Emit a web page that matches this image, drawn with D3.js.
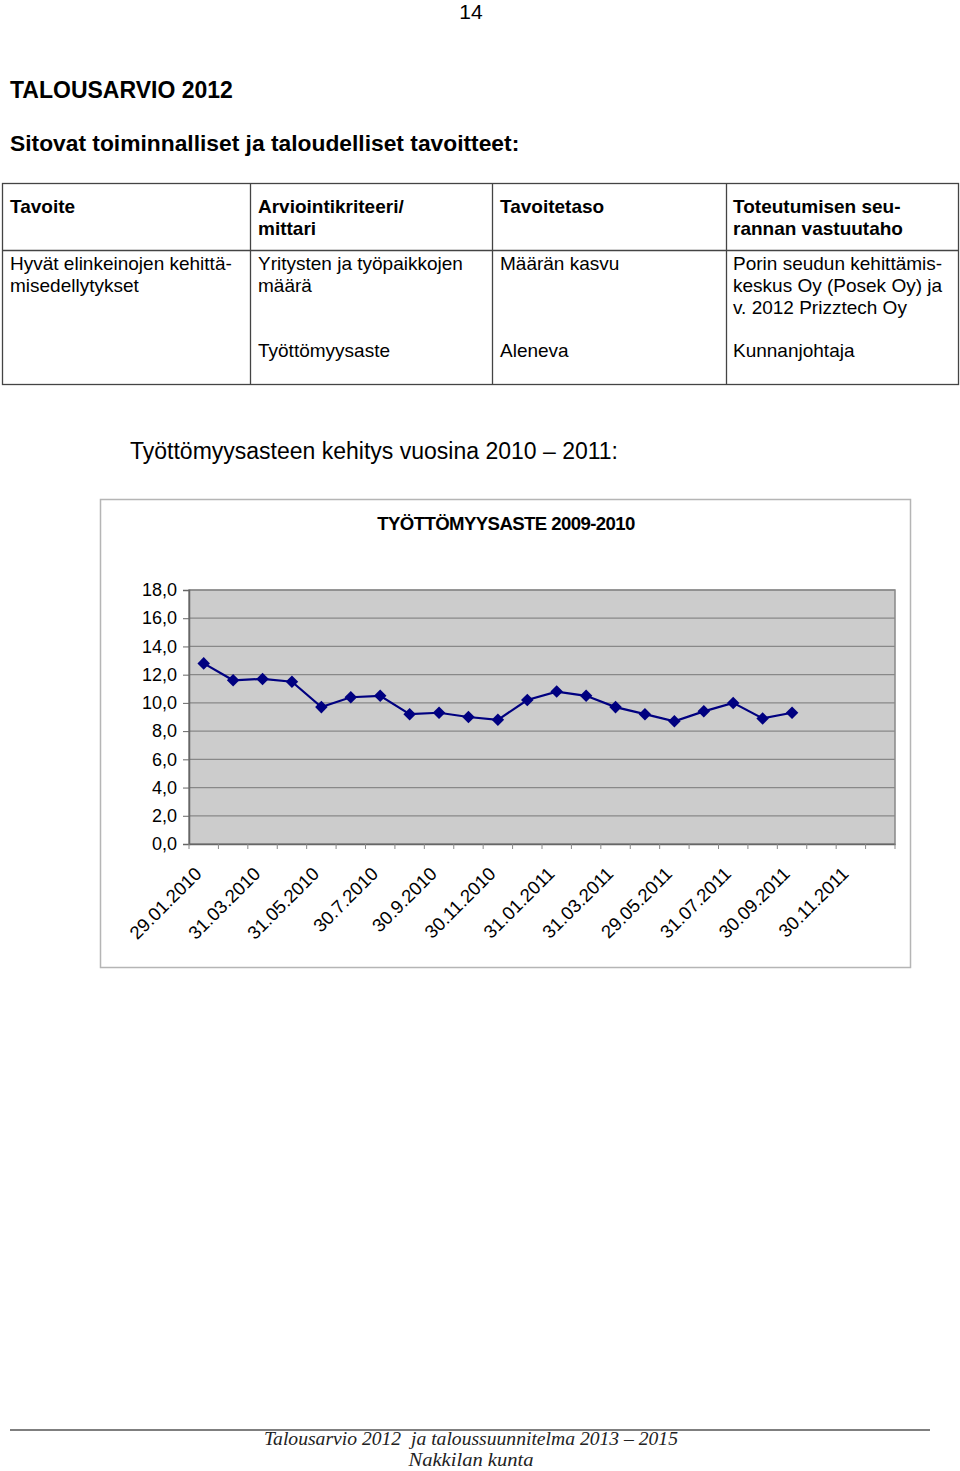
<!DOCTYPE html>
<html><head><meta charset="utf-8">
<script src="https://cdn.jsdelivr.net/npm/d3@7"></script>
<style>
body{margin:0;background:#fff;}
svg{display:block;font-family:Arial,"Liberation Sans",sans-serif;}
</style></head>
<body>
<svg id="page" width="960" height="1471"></svg>
<script>
// ---- data ----
const categoryLabels = ["29.01.2010","","31.03.2010","","31.05.2010","","30.7.2010","","30.9.2010","","30.11.2010","",
  "31.01.2011","","31.03.2011","","29.05.2011","","31.07.2011","","30.09.2011","","30.11.2011",""];
const values = [12.8,11.6,11.7,11.5,9.7,10.4,10.5,9.2,9.3,9.0,8.8,10.2,10.8,10.5,9.7,9.2,8.7,9.4,10.0,8.9,9.3];
const yTicks = [0,2,4,6,8,10,12,14,16,18];

const svg = d3.select("#page");

// page number
svg.append("text").attr("x",471).attr("y",19).attr("text-anchor","middle").attr("font-size",21).text("14");
svg.append("text").attr("x",10).attr("y",98).attr("font-size",23).attr("font-weight","bold").text("TALOUSARVIO 2012");
svg.append("text").attr("x",10).attr("y",151).attr("font-size",22.8).attr("font-weight","bold").text("Sitovat toiminnalliset ja taloudelliset tavoitteet:");

// table
const tb = svg.append("g");
tb.append("rect").attr("x",2.5).attr("y",183.5).attr("width",956).attr("height",201).attr("fill","none").attr("stroke","#444").attr("stroke-width",1.3);
[250,492,726].forEach(x=>tb.append("line").attr("x1",x+0.5).attr("x2",x+0.5).attr("y1",183).attr("y2",385).attr("stroke","#444").attr("stroke-width",1.3));
tb.append("line").attr("x1",2).attr("x2",959).attr("y1",250.5).attr("y2",250.5).attr("stroke","#444").attr("stroke-width",1.3);
const cells = [
  [10,213,["Tavoite"],true],
  [258,213,["Arviointikriteeri/","mittari"],true],
  [500,213,["Tavoitetaso"],true],
  [733,213,["Toteutumisen seu-","rannan vastuutaho"],true],
  [10,270,["Hyvät elinkeinojen kehittä-","misedellytykset"],false],
  [258,270,["Yritysten ja työpaikkojen","määrä"],false],
  [500,270,["Määrän kasvu"],false],
  [733,270,["Porin seudun kehittämis-","keskus Oy (Posek Oy) ja","v. 2012 Prizztech Oy"],false],
  [258,357,["Työttömyysaste"],false],
  [500,357,["Aleneva"],false],
  [733,357,["Kunnanjohtaja"],false]
];
cells.forEach(([x,y,lines,b])=>{
  lines.forEach((t,i)=>tb.append("text").attr("x",x).attr("y",y+i*22).attr("font-size",19)
    .attr("font-weight",b?"bold":"normal").text(t));
});

svg.append("text").attr("x",130).attr("y",459).attr("font-size",23).text("Työttömyysasteen kehitys vuosina 2010 – 2011:");

// chart frame
svg.append("rect").attr("x",100.5).attr("y",499.5).attr("width",810).attr("height",468).attr("fill","#fff").attr("stroke","#b5b5b5").attr("stroke-width",1.5);
svg.append("text").attr("x",506).attr("y",530).attr("text-anchor","middle").attr("font-size",18.6).attr("font-weight","bold")
  .attr("letter-spacing","-0.6").text("TYÖTTÖMYYSASTE 2009-2010");

const L=189, R=895, T=590, B=844;
const x = d3.scaleBand().domain(d3.range(categoryLabels.length)).range([L,R]);
const y = d3.scaleLinear().domain([0,18]).range([B,T]);

const g = svg.append("g");
g.append("rect").attr("x",L).attr("y",T).attr("width",R-L).attr("height",B-T).attr("fill","#cccccc");
// gridlines
g.append("g").selectAll("line").data(yTicks.slice(1)).join("line")
  .attr("x1",L).attr("x2",R).attr("y1",d=>y(d)).attr("y2",d=>y(d)).attr("stroke","#888").attr("stroke-width",1.2);
g.append("rect").attr("x",L).attr("y",T).attr("width",R-L).attr("height",B-T).attr("fill","none").attr("stroke","#888").attr("stroke-width",1.5);

// y axis
const ya = g.append("g").attr("transform",`translate(${L},0)`)
  .call(d3.axisLeft(y).tickValues(yTicks).tickSize(6).tickPadding(6).tickFormat(d=>d3.format(".1f")(d).replace(".",",")));
ya.select(".domain").attr("stroke","#666").attr("stroke-width",1.5);
ya.selectAll(".tick line").attr("stroke","#666");
ya.selectAll("text").attr("font-size",18).attr("font-family","Arial, 'Liberation Sans', sans-serif").attr("fill","#000");

// x axis
const xa = g.append("g").attr("transform",`translate(0,${B})`)
  .call(d3.axisBottom(x).tickSize(0).tickFormat(i=>categoryLabels[i]));
xa.select(".domain").attr("stroke","#666").attr("stroke-width",1.5);
xa.selectAll(".tick text").attr("font-size",18.5).attr("font-family","Arial, 'Liberation Sans', sans-serif").attr("fill","#000")
  .attr("text-anchor","end").attr("dy",0).attr("y",0)
  .attr("transform","translate(-1,31) rotate(-45)");
// category boundary ticks
g.append("g").selectAll("line").data(d3.range(categoryLabels.length+1)).join("line")
  .attr("x1",i=>L+i*x.step()).attr("x2",i=>L+i*x.step()).attr("y1",B).attr("y2",B+5).attr("stroke","#888");

// line + markers
const pts = values.map((v,i)=>[x(i)+x.bandwidth()/2, y(v)]);
g.append("path").datum(pts).attr("d",d3.line()).attr("fill","none").attr("stroke","#000080").attr("stroke-width",2.2);
g.append("g").selectAll("path").data(pts).join("path")
  .attr("transform",d=>`translate(${d[0]},${d[1]})`)
  .attr("d",d3.symbol(d3.symbolDiamond2,100)).attr("fill","#000080");

// footer
svg.append("line").attr("x1",10).attr("x2",930).attr("y1",1430).attr("y2",1430).attr("stroke","#555").attr("stroke-width",1.5);
svg.append("text").attr("x",471).attr("y",1445).attr("text-anchor","middle").attr("font-family","'Liberation Serif','DejaVu Serif',serif")
  .style("white-space","pre").attr("font-style","italic").attr("font-size",18).attr("textLength",414).attr("lengthAdjust","spacingAndGlyphs")
  .attr("fill","#222").text("Talousarvio 2012  ja taloussuunnitelma 2013 – 2015");
svg.append("text").attr("x",471).attr("y",1466).attr("text-anchor","middle").attr("font-family","'Liberation Serif','DejaVu Serif',serif")
  .attr("font-style","italic").attr("font-size",18).attr("textLength",125).attr("lengthAdjust","spacingAndGlyphs")
  .attr("fill","#222").text("Nakkilan kunta");
</script>
</body></html>
